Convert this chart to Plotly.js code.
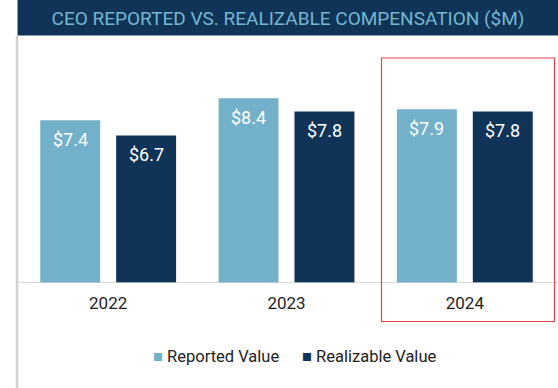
<!DOCTYPE html>
<html>
<head>
<meta charset="utf-8">
<script src="https://cdn.plot.ly/plotly-3.0.1.min.js"></script>
<style>
html,body{margin:0;padding:0;background:#fff;}
#chart{width:558px;height:388px;}
</style>
</head>
<body>
<div id="chart"></div>
<script>
const years = ['2022', '2023', '2024'];
const reported = [7.4, 8.4, 7.9];
const realizable = [6.7, 7.8, 7.8];
const seriesNames = ['Reported Value', 'Realizable Value'];
const colors = ['#72b1c9', '#0f3457'];
const titleText = 'CEO REPORTED VS. REALIZABLE COMPENSATION ($M)';

const W = 558, H = 388;
const ml = 19, mr = 4, mt = 63, mb = 105;
const pw = W - ml - mr, ph = H - mt - mb;
const px = v => (v - ml) / pw;           // pixel x -> paper x
const py = v => (H - mb - v) / ph;       // pixel y -> paper y

const series = [reported, realizable];
const traces = series.map((vals, i) => ({
  type: 'bar',
  x: years,
  y: vals,
  name: seriesNames[i],
  marker: {color: colors[i]},
  hoverinfo: 'skip',
  showlegend: false
}));

const annotations = [];
series.forEach((vals, i) => {
  vals.forEach((v, j) => {
    annotations.push({
      x: j, y: v, xref: 'x', yref: 'y',
      text: '&#36;' + v.toFixed(1),
      showarrow: false,
      xanchor: 'center', yanchor: 'middle',
      xshift: i === 0 ? -38 : 38,
      yshift: -19,
      font: {family: 'Roboto, sans-serif', size: 18, color: '#ffffff'}
    });
  });
});
// legend built from series names and colours
const legendX = [216, 369];
seriesNames.forEach((n, i) => {
  annotations.push({
    x: px(legendX[i]), y: py(356), xref: 'paper', yref: 'paper',
    text: '<span style="color:' + colors[i] + '">■</span> ' + n,
    showarrow: false, xanchor: 'center', yanchor: 'middle',
    font: {family: 'Roboto, sans-serif', size: 16.5, color: '#222222'}
  });
});

const layout = {
  width: W, height: H,
  margin: {l: ml, r: mr, t: mt, b: mb, pad: 0},
  paper_bgcolor: '#ffffff', plot_bgcolor: '#ffffff',
  showlegend: false,
  barmode: 'group',
  bargap: 0.1485,
  bargroupgap: 0.2105,
  title: {
    text: titleText,
    font: {family: 'Roboto, sans-serif', size: 19, color: '#74b6d0'},
    xref: 'container', yref: 'container',
    x: 288 / W, y: 1 - 18 / H, xanchor: 'center', yanchor: 'middle'
  },
  xaxis: {
    type: 'category',
    range: [-0.5, 2.5],
    showgrid: false, zeroline: false, showline: false,
    ticks: '',
    ticklabelstandoff: 8,
    tickfont: {family: 'Roboto, sans-serif', size: 17, color: '#1e1e1e'},
    fixedrange: true
  },
  yaxis: {
    range: [0, 10],
    showgrid: false, zeroline: false, showline: false,
    showticklabels: false, ticks: '',
    fixedrange: true
  },
  shapes: [
    {type: 'rect', xref: 'paper', yref: 'paper', layer: 'below',
     x0: px(17.5), x1: px(W), y0: py(35.5), y1: py(0),
     fillcolor: '#0f3457', line: {width: 0}},
    {type: 'line', xref: 'paper', yref: 'paper',
     x0: px(17), x1: px(17), y0: py(35.5), y1: py(H),
     line: {color: '#d0d0d0', width: 2.5}},
    {type: 'line', xref: 'paper', yref: 'y',
     x0: px(18), x1: px(W), y0: 0, y1: 0,
     line: {color: '#cccccc', width: 1.5}},
    {type: 'rect', xref: 'paper', yref: 'paper',
     x0: px(381.5), x1: px(554.5), y0: py(321.5), y1: py(58),
     fillcolor: 'rgba(0,0,0,0)', line: {color: '#e2444a', width: 1.2}}
  ],
  annotations: annotations
};

Plotly.newPlot('chart', traces, layout, {displayModeBar: false, staticPlot: true});
</script>
</body>
</html>
